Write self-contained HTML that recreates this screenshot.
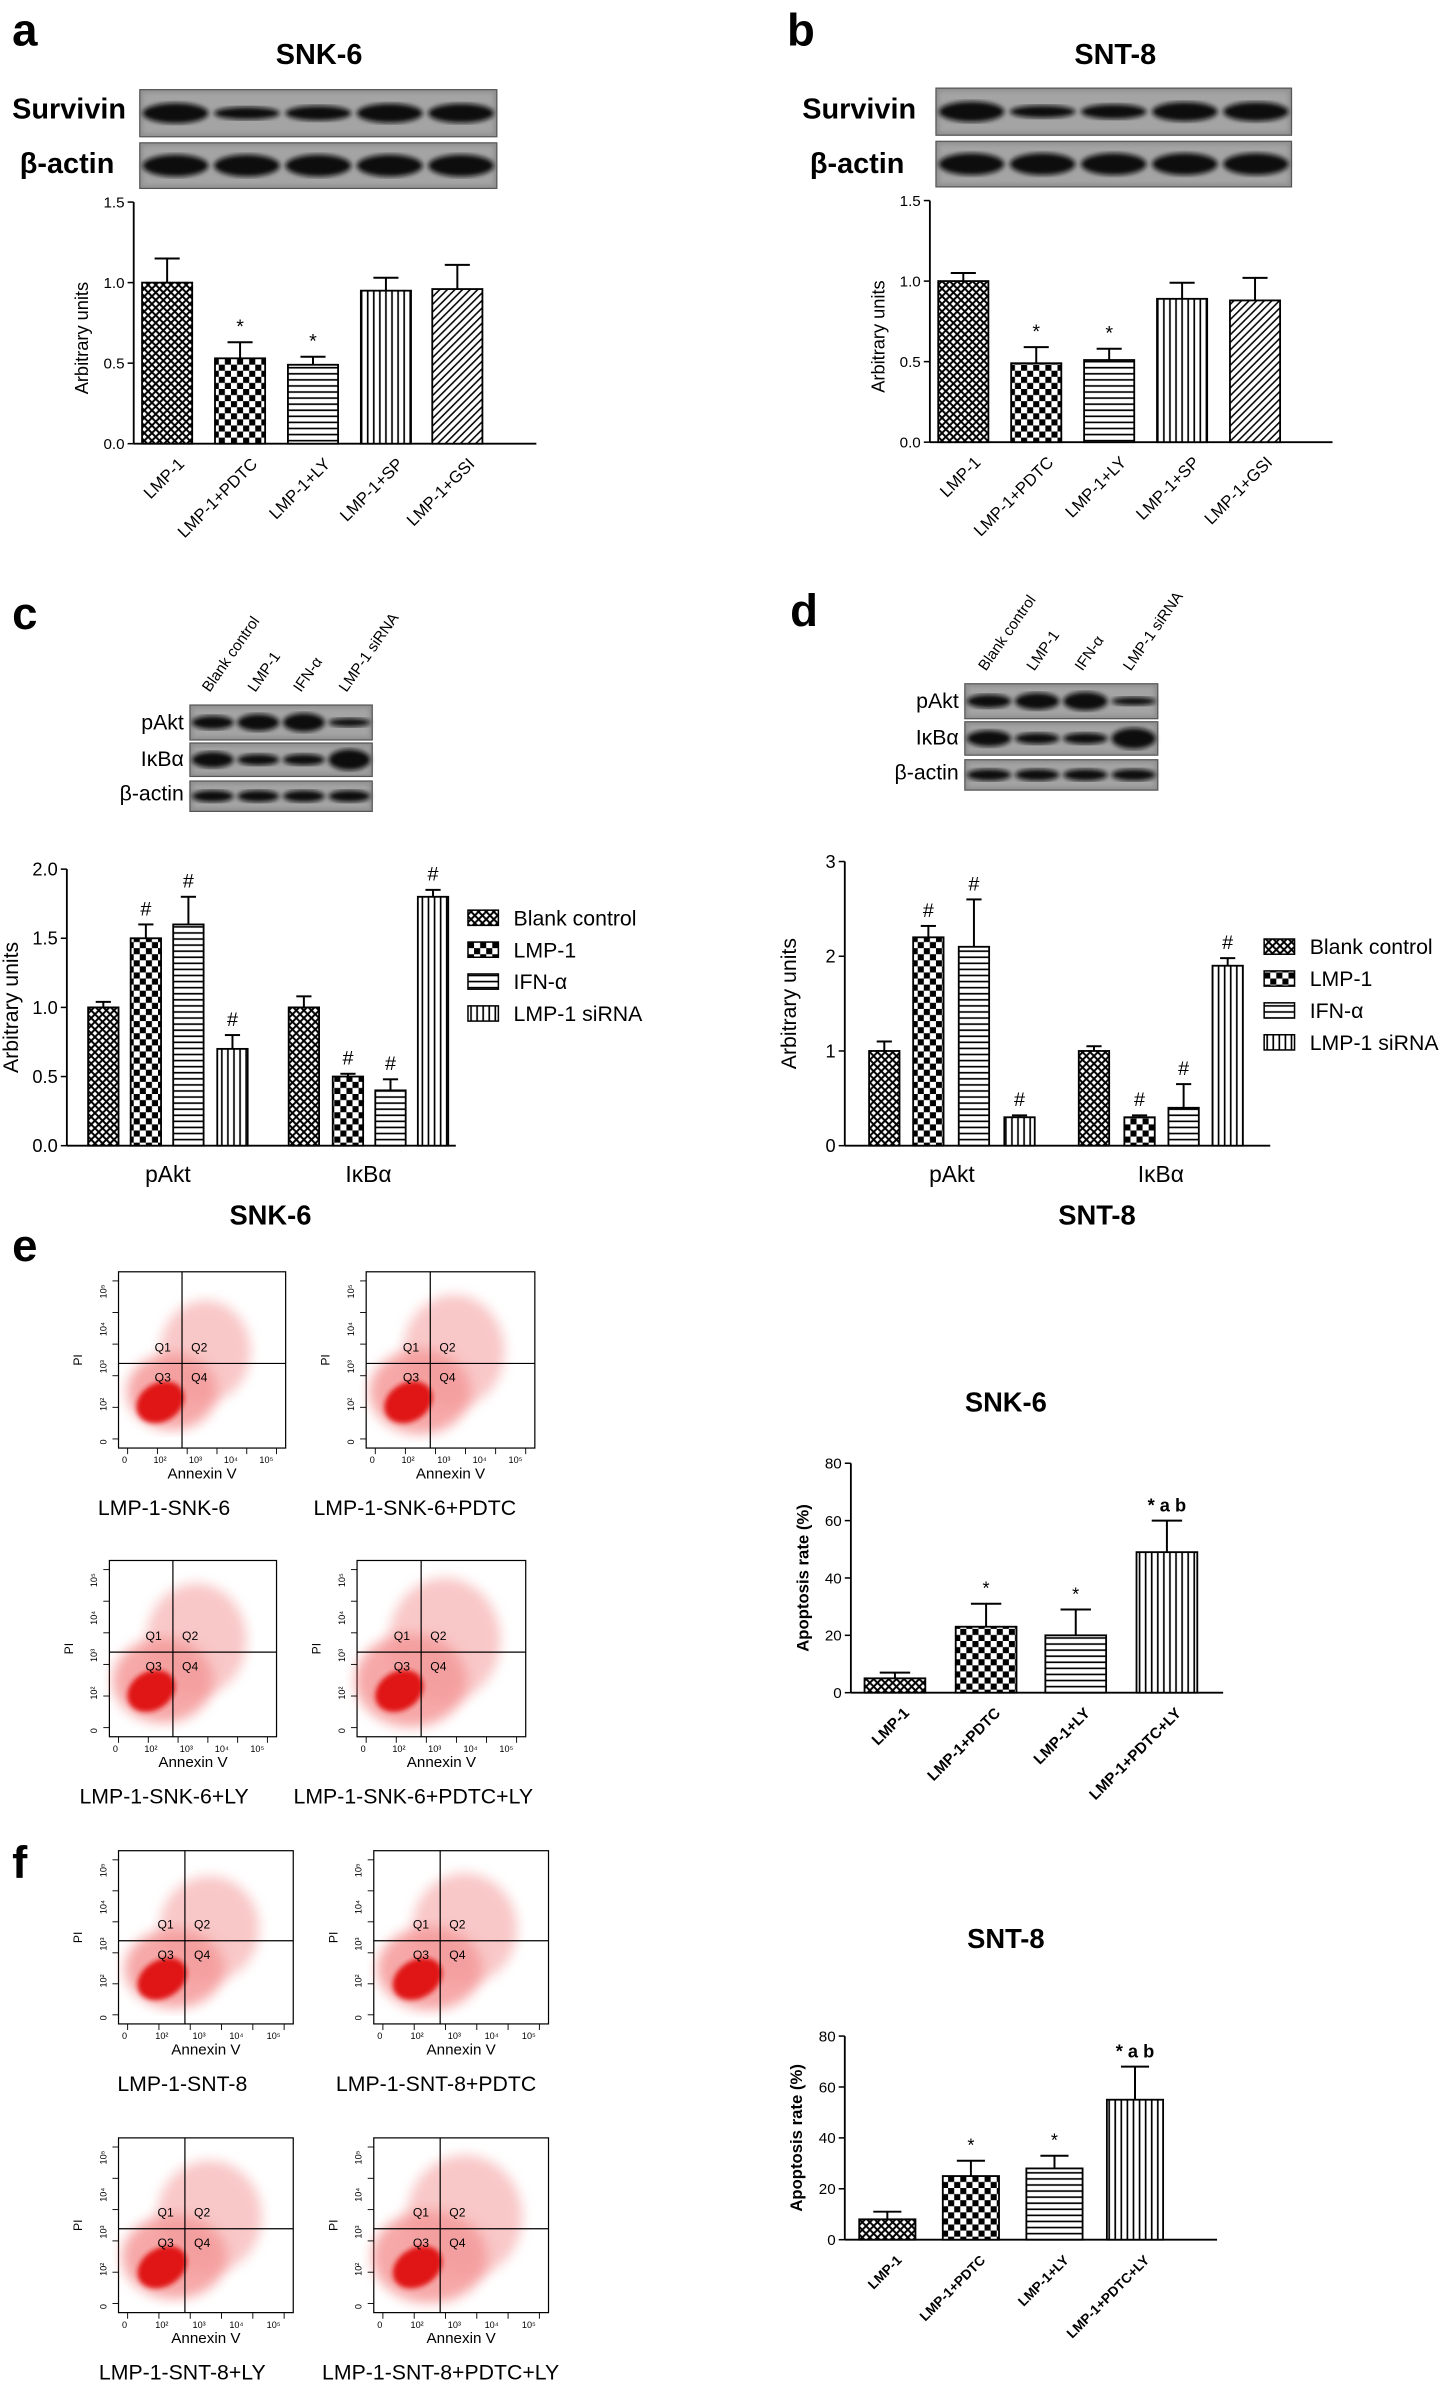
<!DOCTYPE html>
<html><head><meta charset="utf-8"><style>
html,body{margin:0;padding:0;background:#fff}
svg{display:block}
text{font-family:"Liberation Sans",sans-serif}
</style></head><body>
<svg id="fig" width="1448" height="2381" viewBox="0 0 953 1567" preserveAspectRatio="none" xmlns="http://www.w3.org/2000/svg">
<defs>
<pattern id="p0" width="5" height="5" patternUnits="userSpaceOnUse"><rect width="5" height="5" fill="#fff"/><path d="M0 0L5 5M5 0L0 5" stroke="#000" stroke-width="1.3"/></pattern>
<pattern id="p1" width="8" height="8" patternUnits="userSpaceOnUse"><rect width="8" height="8" fill="#fff"/><rect width="4" height="4" fill="#000"/><rect x="4" y="4" width="4" height="4" fill="#000"/></pattern>
<pattern id="p2" width="4" height="4" patternUnits="userSpaceOnUse"><rect width="4" height="4" fill="#fff"/><path d="M0 2H4" stroke="#000" stroke-width="1.1"/></pattern>
<pattern id="p3" width="4" height="4" patternUnits="userSpaceOnUse"><rect width="4" height="4" fill="#fff"/><path d="M2 0V4" stroke="#000" stroke-width="1.1"/></pattern>
<pattern id="p4" width="5" height="5" patternUnits="userSpaceOnUse"><rect width="5" height="5" fill="#fff"/><path d="M0 5L5 0M-1 1L1 -1M4 6L6 4" stroke="#000" stroke-width="1"/></pattern>
<filter id="blur"><feGaussianBlur stdDeviation="1.5"/></filter>
<filter id="blur4"><feGaussianBlur stdDeviation="4"/></filter>
</defs>
</svg>
<script>
// ---- data ----
const catsA = ['LMP-1','LMP-1+PDTC','LMP-1+LY','LMP-1+SP','LMP-1+GSI'];
const valsA = [1.0,0.53,0.49,0.95,0.96];
const errA = [0.15,0.1,0.05,0.08,0.15];
const sigA = ['','*','*','',''];
const valsB = [1.0,0.49,0.51,0.89,0.88];
const errB = [0.05,0.1,0.07,0.1,0.14];
const sigB = ['','*','*','',''];
const ticksAB = [0,0.5,1.0,1.5];
const ticksLabAB = ['0.0','0.5','1.0','1.5'];
const groupsCD = ['pAkt','IκBα'];
const seriesCD = ['Blank control','LMP-1','IFN-α','LMP-1 siRNA'];
const valsC = [[1.0,1.5,1.6,0.7],[1.0,0.5,0.4,1.8]];
const errC = [[0.04,0.1,0.2,0.1],[0.08,0.02,0.08,0.05]];
const sigC = [['','#','#','#'],['','#','#','#']];
const ticksC = [0,0.5,1.0,1.5,2.0];
const ticksLabC = ['0.0','0.5','1.0','1.5','2.0'];
const valsD = [[1.0,2.2,2.1,0.3],[1.0,0.3,0.4,1.9]];
const errD = [[0.1,0.12,0.5,0.02],[0.05,0.02,0.25,0.08]];
const sigD = [['','#','#','#'],['','#','#','#']];
const ticksD = [0,1,2,3];
const ticksLabD = ['0','1','2','3'];
const catsE = ['LMP-1','LMP-1+PDTC','LMP-1+LY','LMP-1+PDTC+LY'];
const valsE = [5,23,20,49];
const errE = [2,8,9,11];
const sigE = ['','*','*','* a b'];
const valsF = [8,25,28,55];
const errF = [3,6,5,13];
const sigF = ['','*','*','* a b'];
const ticksEF = [0,20,40,60,80];
const ticksLabEF = ['0','20','40','60','80'];
const flowTicks = ['0','10²','10³','10⁴','10⁵'];

const svg = document.getElementById('fig');
const NS='http://www.w3.org/2000/svg';
function mk(tag,attrs,parent,txt){const e=document.createElementNS(NS,tag);for(const k in attrs)e.setAttribute(k,attrs[k]);if(txt!==undefined)e.textContent=txt;(parent||svg).appendChild(e);return e;}
function txt(x,y,s,size,opts,parent){opts=opts||{};const a={x:x,y:y,'font-size':size,fill:'#000'};if(opts.anchor)a['text-anchor']=opts.anchor;if(opts.bold)a['font-weight']='bold';if(opts.rot!==undefined)a.transform='rotate('+opts.rot+' '+x+' '+y+')';const t=mk('text',a,parent,s);return t;}

[['a',8,30],['b',518,30],['c',8,414],['d',520,412],['e',8,830],['f',8,1236]].forEach(l=>{
  const t=txt(l[1],l[2],l[0],30,{bold:true});
  
  
});

function blot(x,y,w,h,n,intens,name){
  const g=mk('g',{});
  
  
  mk('rect',{x:x,y:y,width:w,height:h,fill:'#8e8e8e'},g);
  mk('rect',{x:x+2,y:y+2,width:w-4,height:h-4,fill:'#a4a4a4',filter:'url(#blur)'},g);
  const bw=w/n;
  for(let i=0;i<n;i++){
    mk('ellipse',{cx:x+bw*(i+0.5),cy:y+h/2,rx:bw*0.46,ry:h*0.24*(intens[i]||1),fill:'#111',filter:'url(#blur)'},g);
  }
  mk('rect',{x:x,y:y,width:w,height:h,fill:'none',stroke:'#555','stroke-width':0.8},g);
  return g;
}

function axis(x0,y0,yTop,xEnd,ticks,labs,max,title,fs,name){
  const g=mk('g',{});
  
  
  const sy=v=>y0-(v/max)*(y0-yTop);
  mk('line',{x1:x0,y1:sy(max),x2:x0,y2:y0,stroke:'#000','stroke-width':1.2},g);
  mk('line',{x1:x0,y1:y0,x2:xEnd,y2:y0,stroke:'#000','stroke-width':1.2},g);
  ticks.forEach((t,i)=>{
    mk('line',{x1:x0-4,y1:sy(t),x2:x0,y2:sy(t),stroke:'#000'},g);
    txt(x0-6,sy(t)+fs*0.35,labs[i],fs,{anchor:'end'},g);
  });
  return {g:g,sy:sy};
}
function bar(g,cx,w,v,e,sy,y0,pat,sig,sigSize){
  const r=mk('rect',{x:cx-w/2,y:sy(v),width:w,height:y0-sy(v),fill:'url(#'+pat+')',stroke:'#000','stroke-width':1.2},g);
  
  
  mk('line',{x1:cx,y1:sy(v),x2:cx,y2:sy(v+e),stroke:'#000','stroke-width':1.3},g);
  mk('line',{x1:cx-w/4,y1:sy(v+e),x2:cx+w/4,y2:sy(v+e),stroke:'#000','stroke-width':1.3},g);
  if(sig) txt(cx,sy(v+e)-6,sig,sigSize,{anchor:'middle',bold:sig.length>1},g);
}

function panelAB(x0,title,vals,errs,sigs,centers,y0,yTop,blotX,blotW,blotY,lblX,blotName){
  const t=txt(x0+122,42,title,19,{anchor:'middle',bold:true});
  
  const l1=txt(lblX,78,'Survivin',19,{bold:true});
  
  const l2=txt(lblX+5,114,'β-actin',19,{bold:true});
  
  blot(blotX,blotY,blotW,31,5,[0.9,0.55,0.65,0.85,0.85],blotName+'-survivin');
  blot(blotX,blotY+35,blotW,30,5,[1,1,1,1,1],blotName+'-actin');
  const ax=axis(x0,y0,yTop,x0+265,ticksAB,ticksLabAB,1.5,'',10,'axes');
  const yt=txt(x0-30,(y0+yTop)/2+10,'Arbitrary units',12,{anchor:'middle',rot:-90},ax.g);
  
  const pats=['p0','p1','p2','p3','p4'];
  vals.forEach((v,i)=>{
    bar(ax.g,centers[i],33,v,errs[i],ax.sy,y0,pats[i],sigs[i],13);
    const lt=txt(centers[i]+12,y0+14,catsA[i],11,{anchor:'end',rot:-45},ax.g);
    
  });
}
panelAB(88,'SNK-6',valsA,errA,sigA,[110,158,206,254,301],292,133,92,235,59,8,'blot-a');
panelAB(612,'SNT-8',valsB,errB,sigB,[634,682,730,778,826],291,132,616,234,58,528,'blot-b');

function panelCD(x0,y0,yTop,max,ticks,labs,vals,errs,sigs,centers,xEnd,legX,legY,cap,capX,blotX,blotY,blotW,lblX,name){
  const lanes=['Blank control','LMP-1','IFN-α','LMP-1 siRNA'];
  const bw=blotW/4;
  lanes.forEach((s,i)=>{const lt=txt(blotX+bw*(i+0.5)-2,blotY-8,s,10,{rot:-55});});
  blot(blotX,blotY,blotW,23,4,[0.8,1,1.1,0.5],name+'-pakt');
  blot(blotX,blotY+25,blotW,22,4,[1,0.7,0.7,1.3],name+'-ikba');
  blot(blotX,blotY+50,blotW,20,4,[0.8,0.8,0.8,0.8],name+'-actin');
  [['pAkt',16],['IκBα',40],['β-actin',63]].forEach(r=>{const t=txt(blotX-4,blotY+r[1],r[0],14,{anchor:'end'});});
  const ax=axis(x0,y0,yTop,xEnd,ticks,labs,max,'',12,'axes');
  const yt=txt(x0-32,(y0+yTop)/2,'Arbitrary units',14,{anchor:'middle',rot:-90},ax.g);
  
  const pats=['p0','p1','p2','p3'];
  vals.forEach((grp,gi)=>{
    grp.forEach((v,i)=>bar(ax.g,centers[gi][i],20,v,errs[gi][i],ax.sy,y0,pats[i],sigs[gi][i],13));
    const m=(centers[gi][0]+centers[gi][3])/2;
    const gl=txt(m,y0+24,groupsCD[gi],15,{anchor:'middle'},ax.g);
    
  });
  const c=txt(capX,y0+52,cap,18,{anchor:'middle',bold:true});
  
  seriesCD.forEach((s,i)=>{
    const g=mk('g',{});
    
    
    mk('rect',{x:legX,y:legY+i*21-9,width:20,height:10,fill:'url(#'+pats[i]+')',stroke:'#000'},g);
    txt(legX+30,legY+i*21+1,s,14,{},g);
  });
}
panelCD(44,754,572,2,ticksC,ticksLabC,valsC,errC,sigC,[[68,96,124,153],[200,229,257,285]],300,308,608,'SNK-6',178,125,464,120,80,'blot-c');
panelCD(556,754,567,3,ticksD,ticksLabD,valsD,errD,sigD,[[582,611,641,671],[720,750,779,808]],836,832,627,'SNT-8',722,635,450,127,592,'blot-d');

function flow(x,y,w,h,label,dens,labelX,name){
  const g=mk('g',{});
  
  
  mk('rect',{x:x,y:y,width:w,height:h,fill:'#fff',stroke:'#000','stroke-width':0.8},g);
  const cx=x+w*0.38, cy=y+h*0.52;
  mk('ellipse',{cx:x+w*0.32,cy:y+h*0.68,rx:w*0.3*dens,ry:h*0.24*dens,fill:'#f06060',opacity:0.55,filter:'url(#blur4)'},g);
  mk('ellipse',{cx:x+w*0.52,cy:y+h*0.45,rx:w*0.3*dens,ry:h*0.32*dens,fill:'#f49a9a',opacity:0.55,filter:'url(#blur4)'},g);
  mk('ellipse',{cx:x+w*0.25,cy:y+h*0.74,rx:w*0.15,ry:h*0.11,fill:'#e01818',filter:'url(#blur)',transform:'rotate(-30 '+(x+w*0.25)+' '+(y+h*0.74)+')'},g);
  mk('line',{x1:cx,y1:y,x2:cx,y2:y+h,stroke:'#000','stroke-width':0.8},g);
  mk('line',{x1:x,y1:cy,x2:x+w,y2:cy,stroke:'#000','stroke-width':0.8},g);
  [['Q1',cx-18,cy-8],['Q2',cx+6,cy-8],['Q3',cx-18,cy+12],['Q4',cx+6,cy+12]].forEach(q=>txt(q[1],q[2],q[0],8,{},g));
  for(let i=0;i<6;i++){
    const tx=x+6+i*(w-12)/5;
    mk('line',{x1:tx,y1:y+h,x2:tx,y2:y+h+4,stroke:'#000','stroke-width':0.6},g);
    const ty=y+h-6-i*(h-12)/5;
    mk('line',{x1:x-4,y1:ty,x2:x,y2:ty,stroke:'#000','stroke-width':0.6},g);
  }
  flowTicks.forEach((t,i)=>{
    const tx=x+4+i*(w-12)/4.2;
    txt(tx,y+h+10,t,6,{anchor:'middle'},g);
    const ty=y+h-4-i*(h-12)/4.2;
    txt(x-8,ty,t,6,{anchor:'middle',rot:-90},g);
  });
  txt(x+w/2,y+h+20,'Annexin V',10,{anchor:'middle'},g);
  txt(x-24,y+h/2,'PI',8,{anchor:'middle',rot:-90},g);
  const l=txt(labelX,y+h+44,label,14,{anchor:'middle'});
  
}
flow(78,837,110,116,'LMP-1-SNK-6',0.9,108,'flow-plot');
flow(241,837,111,116,'LMP-1-SNK-6+PDTC',1,273,'flow-plot');
flow(72,1027,110,116,'LMP-1-SNK-6+LY',1,108,'flow-plot');
flow(235,1027,111,116,'LMP-1-SNK-6+PDTC+LY',1.1,272,'flow-plot');
flow(78,1218,115,114,'LMP-1-SNT-8',0.95,120,'flow-plot');
flow(246,1218,115,114,'LMP-1-SNT-8+PDTC',1,287,'flow-plot');
flow(78,1407,115,115,'LMP-1-SNT-8+LY',1,120,'flow-plot');
flow(246,1407,115,115,'LMP-1-SNT-8+PDTC+LY',1.1,290,'flow-plot');

function apo(x0,y0,yTop,title,ty,vals,errs,sigs,centers,w,fs){
  const t=txt(662,ty,title,18,{anchor:'middle',bold:true});
  
  const ax=axis(x0,y0,yTop,x0+245,ticksEF,ticksLabEF,80,'',10,'axes');
  const yt=txt(x0-28,(y0+yTop)/2,'Apoptosis rate (%)',11,{anchor:'middle',rot:-90,bold:true},ax.g);
  
  const pats=['p0','p1','p2','p3'];
  vals.forEach((v,i)=>{
    bar(ax.g,centers[i],w,v,errs[i],ax.sy,y0,pats[i],sigs[i],12);
    const lt=txt(centers[i]+10,y0+14,catsE[i],fs,{anchor:'end',rot:-45,bold:true},ax.g);
    
  });
}
apo(560,1114,963,'SNK-6',929,valsE,errE,sigE,[589,649,708,768],40,10);
apo(556,1474,1340,'SNT-8',1282,valsF,errF,sigF,[584,639,694,747],37,9);
</script>
</body></html>
